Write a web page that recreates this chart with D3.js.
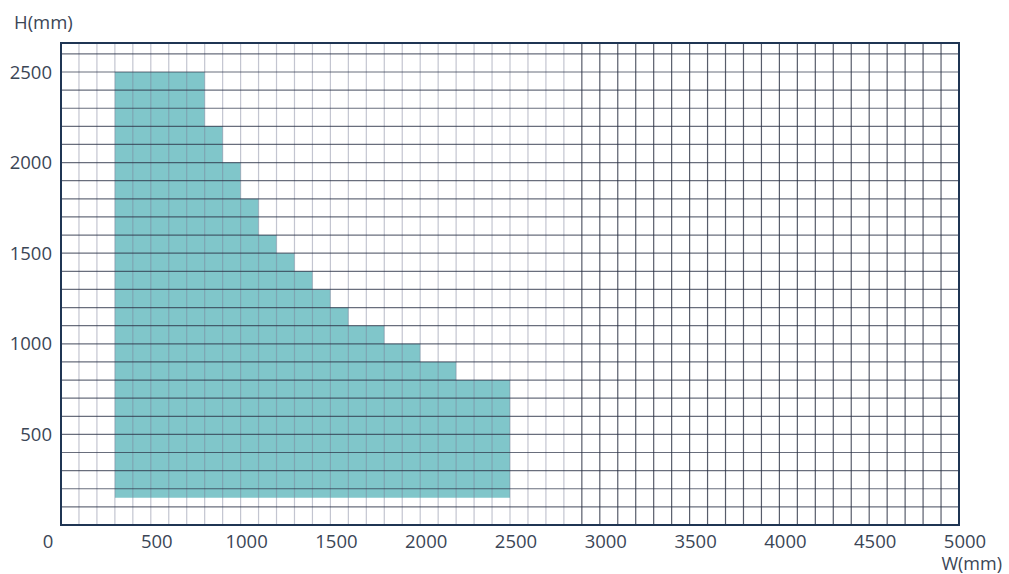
<!DOCTYPE html>
<html lang="en">
<head>
<meta charset="utf-8">
<title>W x H</title>
<script src="https://d3js.org/d3.v7.min.js"></script>
<style>
  body { margin: 0; background: #fff; }
  text { font-family: "Open Sans", sans-serif; fill: #3b4656; }
</style>
</head>
<body>
<svg width="1009" height="574"></svg>
<script>
// staircase of the allowed area: from W to W, H max (mm)
var stepStart = [300, 800, 900, 1000, 1100, 1200, 1300, 1400, 1500, 1600, 1800, 2000, 2200];
var stepEnd   = [800, 900, 1000, 1100, 1200, 1300, 1400, 1500, 1600, 1800, 2000, 2200, 2500];
var stepH     = [2500, 2200, 2000, 1800, 1600, 1500, 1400, 1300, 1200, 1100, 1000, 900, 800];
var minH = 150;

var xTicks = [0, 500, 1000, 1500, 2000, 2500, 3000, 3500, 4000, 4500, 5000];
var yTicks = [500, 1000, 1500, 2000, 2500];

var svg = d3.select("svg"),
    margin = {top: 43, right: 50, bottom: 49, left: 61},
    width = +svg.attr("width") - margin.left - margin.right,
    height = +svg.attr("height") - margin.top - margin.bottom,
    g = svg.append("g").attr("transform", "translate(" + margin.left + "," + margin.top + ")");

var x = d3.scaleLinear().domain([0, 5000]).range([0, width]),
    y = d3.scaleLinear().domain([0, 2660]).range([height, 0]);

// area polygon
var pts = [[stepStart[0], minH]];
stepStart.forEach(function(s, i) {
  pts.push([s, stepH[i]]);
  pts.push([stepEnd[i], stepH[i]]);
});
pts.push([stepEnd[stepEnd.length - 1], minH]);

g.append("path")
    .attr("d", d3.line().x(function(d) { return x(d[0]); }).y(function(d) { return y(d[1]); })(pts) + "Z")
    .attr("fill", "#80c6ca");

// grid (left part of the scan is paler)
var vLines = d3.range(100, 5000, 100),
    hLines = d3.range(100, 2700, 100);

g.selectAll(".v").data(vLines).enter().append("line")
    .attr("x1", function(d) { return x(d); })
    .attr("x2", function(d) { return x(d); })
    .attr("y1", 0).attr("y2", height)
    .attr("stroke", function(d) { return d < 2900 ? "#7a7f96" : "#2e3446"; })
    .attr("stroke-opacity", function(d) { return d < 2900 ? 0.45 : 0.8; })
    .attr("stroke-width", 1.2);

g.selectAll(".h").data(hLines).enter().append("line")
    .attr("x1", 0).attr("x2", width)
    .attr("y1", function(d) { return y(d); })
    .attr("y2", function(d) { return y(d); })
    .attr("stroke", "#2a3044")
    .attr("stroke-opacity", 0.7)
    .attr("stroke-width", 1.2);

g.append("rect")
    .attr("width", width).attr("height", height)
    .attr("fill", "none")
    .attr("stroke", "#1f3553")
    .attr("stroke-width", 2);

// tick labels
g.selectAll(".xl").data(xTicks).enter().append("text")
    .attr("x", function(d) { return x(d) + (d === 0 ? -13 : 6); })
    .attr("y", height + 23)
    .attr("text-anchor", "middle")
    .style("font-size", "18.5px")
    .text(function(d) { return d; });

g.selectAll(".yl").data(yTicks).enter().append("text")
    .attr("x", -9)
    .attr("y", function(d) { return y(d); })
    .attr("dy", "0.36em")
    .attr("text-anchor", "end")
    .style("font-size", "18.5px")
    .text(function(d) { return d; });

svg.append("text").attr("x", 14).attr("y", 29)
    .style("font-size", "18.5px").text("H(mm)");
svg.append("text").attr("x", 1002).attr("y", 570)
    .attr("text-anchor", "end")
    .style("font-size", "18px").text("W(mm)");
</script>
</body>
</html>
